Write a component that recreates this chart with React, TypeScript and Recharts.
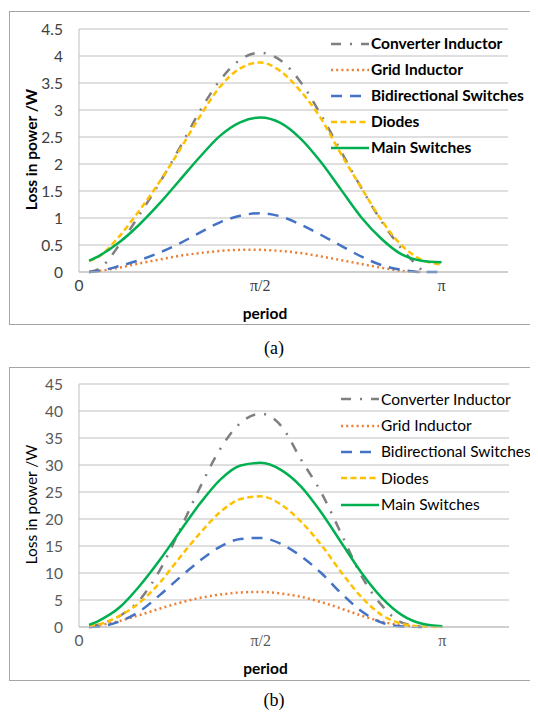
import { LineChart, Line, XAxis, YAxis, CartesianGrid, Legend } from "recharts";

// angle along the half period, in degrees (0 .. π)
const angle = [5, 10, 20, 30, 40, 50, 60, 70, 80, 90, 100, 110, 120, 130, 140, 150, 160, 170, 180];

// (a)
const converterA = [0.0, 0.06, 0.5, 1.06, 1.65, 2.3, 2.98, 3.55, 3.93, 4.06, 3.92, 3.52, 2.92, 2.24, 1.57, 0.95, 0.44, 0.04, null];
const gridA = [0.0, 0.02, 0.08, 0.16, 0.23, 0.3, 0.35, 0.39, 0.41, 0.41, 0.39, 0.35, 0.29, 0.22, 0.15, 0.08, 0.02, 0.0, null];
const bidirA = [0.0, 0.02, 0.11, 0.22, 0.36, 0.53, 0.73, 0.92, 1.04, 1.09, 1.03, 0.88, 0.69, 0.49, 0.29, 0.13, 0.04, 0.0, 0.0];
const diodesA = [0.2, 0.29, 0.66, 1.14, 1.67, 2.26, 2.88, 3.43, 3.77, 3.88, 3.72, 3.35, 2.85, 2.19, 1.57, 0.97, 0.5, 0.23, 0.14];
const mainA = [0.21, 0.3, 0.55, 0.88, 1.27, 1.7, 2.13, 2.52, 2.77, 2.86, 2.76, 2.47, 2.04, 1.53, 1.02, 0.62, 0.33, 0.21, 0.18];

// (b)
const converterB = [0.0, 0.5, 2.0, 5.0, 10.5, 18.0, 25.9, 33.0, 37.8, 39.5, 37.3, 31.0, 24.9, 17.2, 9.4, 4.0, 0.8, 0.1, null];
const gridB = [0.0, 0.3, 1.1, 2.2, 3.4, 4.5, 5.4, 6.0, 6.4, 6.5, 6.2, 5.6, 4.6, 3.4, 2.1, 1.0, 0.3, 0.0, null];
const bidirB = [0.0, 0.1, 1.0, 2.9, 5.9, 9.2, 12.3, 14.9, 16.3, 16.5, 15.4, 13.1, 10.0, 6.2, 2.9, 0.8, 0.1, 0.0, null];
const diodesB = [0.2, 0.5, 2.05, 4.5, 8.2, 12.9, 17.4, 21.3, 23.7, 24.2, 22.7, 19.5, 15.2, 10.1, 5.5, 2.2, 0.6, 0.1, 0.0];
const mainB = [0.4, 1.2, 3.6, 7.6, 12.4, 17.7, 22.9, 27.3, 29.9, 30.4, 29.1, 26.0, 21.2, 15.6, 10.0, 5.4, 2.2, 0.6, 0.15];

const seriesNames = ["Converter Inductor", "Grid Inductor", "Bidirectional Switches", "Diodes", "Main Switches"];
const seriesKeys = ["conv", "grid", "bidir", "diode", "main"];

const yTicksA = [0, 0.5, 1, 1.5, 2, 2.5, 3, 3.5, 4, 4.5];
const yTicksB = [0, 5, 10, 15, 20, 25, 30, 35, 40, 45];
const xTicks = [0, 90, 180];
const xLabels = ["0", "π/2", "π"];

const FONT = "Lato, 'Liberation Sans', sans-serif";
const SERIF = "'Liberation Serif', 'DejaVu Serif', serif";
const FS = 15.5;

const lineStyle: Record<string, { color: string; dash?: string }> = {
  conv: { color: "#7f7f7f", dash: "10 9 2 9" },
  grid: { color: "#ed7d31", dash: "2 3.2" },
  bidir: { color: "#4472c4", dash: "11 8" },
  diode: { color: "#ffc000", dash: "6 3.5" },
  main: { color: "#00b050" },
};

function buildRows(values: (number | null)[][]) {
  return angle.map((a, i) => {
    const row: Record<string, number | null> = { angle: a };
    seriesKeys.forEach((k, s) => {
      row[k] = values[s][i];
    });
    return row;
  });
}

function YTitle({ viewBox, bold }: any) {
  const x = viewBox.x + 21;
  const y = viewBox.y + viewBox.height / 2 - 1;
  return (
    <text
      x={x}
      y={y}
      dy="0.36em"
      transform={`rotate(-90, ${x}, ${y})`}
      textAnchor="middle"
      fontFamily={FONT}
      fontSize={FS}
      fontWeight={bold ? 700 : 400}
      fill="#000"
    >
      Loss in power /W
    </text>
  );
}

function XTitle({ viewBox }: any) {
  return (
    <text
      x={viewBox.x + viewBox.width / 2 - 28.5}
      y={viewBox.y + 41.5}
      dy="0.36em"
      textAnchor="middle"
      fontFamily={FONT}
      fontSize={FS}
      fontWeight={700}
      fill="#000"
    >
      period
    </text>
  );
}

function XTick({ x, y, payload, fill }: any) {
  const label = xLabels[xTicks.indexOf(payload.value)];
  const isPi = label.includes("π");
  return (
    <text
      x={x}
      y={y}
      dy="0.71em"
      textAnchor="middle"
      fill={fill}
      fontFamily={isPi ? SERIF : FONT}
      fontSize={isPi ? 16 : FS}
    >
      {label}
    </text>
  );
}

function LegendBox({ payload, bold, rowHeight }: any) {
  const items = [...(payload || [])].sort(
    (a: any, b: any) => seriesKeys.indexOf(a.dataKey) - seriesKeys.indexOf(b.dataKey)
  );
  return (
    <div style={{ fontFamily: FONT, fontSize: FS, fontWeight: bold ? 700 : 400, color: "#000" }}>
      {items.map((p: any) => {
        const st = lineStyle[p.dataKey];
        return (
          <div key={p.dataKey} style={{ display: "flex", alignItems: "center", height: rowHeight, whiteSpace: "nowrap" }}>
            <svg width={38} height={6} style={{ display: "block" }}>
              <line x1={0} y1={3} x2={38} y2={3} stroke={st.color} strokeWidth={2.5} strokeDasharray={st.dash} />
            </svg>
            <span style={{ marginLeft: 2, lineHeight: 1 }}>{p.value}</span>
          </div>
        );
      })}
    </div>
  );
}

interface PanelProps {
  top: number;
  values: (number | null)[][];
  yTicks: number[];
  bold: boolean;
  tickColor: string;
  marginTop: number;
  marginRight: number;
  xAxisHeight: number;
  legendLeft: number;
  legendTop: number;
  rowHeight: number;
}

function Panel(props: PanelProps) {
  const data = buildRows(props.values);
  const yMax = props.yTicks[props.yTicks.length - 1];
  return (
    <div
      style={{
        position: "absolute",
        left: 1,
        top: props.top,
        width: 560,
        height: 314,
        border: "1px solid #a6a6a6",
        boxSizing: "border-box",
        background: "#fff",
      }}
    >
      <LineChart
        width={528}
        height={312}
        data={data}
        margin={{ top: props.marginTop, right: props.marginRight, bottom: 0, left: 0 }}
      >
        <CartesianGrid vertical={false} stroke="#bfbfbf" strokeWidth={1} />
        <XAxis
          dataKey="angle"
          type="number"
          domain={[0, 213]}
          ticks={xTicks}
          interval={0}
          height={props.xAxisHeight}
          axisLine={{ stroke: "#bfbfbf" }}
          tickLine={false}
          tick={(t: any) => <XTick {...t} fill={props.tickColor} />}
          label={<XTitle />}
        />
        <YAxis
          type="number"
          domain={[0, yMax]}
          ticks={props.yTicks}
          interval={0}
          width={69}
          axisLine={{ stroke: "#bfbfbf" }}
          tickLine={false}
          tickMargin={10}
          tick={{ fill: props.tickColor, fontSize: FS, fontFamily: FONT }}
          label={<YTitle bold={props.bold} />}
        />
        <Legend
          layout="vertical"
          align="center"
          verticalAlign="middle"
          width={210}
          wrapperStyle={{ left: props.legendLeft, top: props.legendTop }}
          content={(lp: any) => <LegendBox {...lp} bold={props.bold} rowHeight={props.rowHeight} />}
        />
        {seriesKeys.map((k, i) => (
          <Line
            key={k}
            type="monotone"
            dataKey={k}
            name={seriesNames[i]}
            stroke={lineStyle[k].color}
            strokeWidth={2.5}
            strokeDasharray={lineStyle[k].dash}
            dot={false}
            activeDot={false}
            isAnimationActive={false}
          />
        ))}
      </LineChart>
    </div>
  );
}

function Caption({ top, text }: { top: number; text: string }) {
  return (
    <div
      style={{
        position: "absolute",
        left: 0,
        top,
        width: 532,
        textAlign: "center",
        fontFamily: SERIF,
        fontSize: 18,
        lineHeight: "20px",
        color: "#000",
      }}
    >
      {text}
    </div>
  );
}

export default function App() {
  return (
    <div style={{ position: "relative", width: 530, height: 706, overflow: "hidden" }}>
      <Panel
        top={3}
        values={[converterA, gridA, bidirA, diodesA, mainA]}
        yTicks={yTicksA}
        bold={true}
        tickColor="#404040"
        marginTop={17}
        marginRight={30}
        xAxisHeight={52}
        legendLeft={321}
        legendTop={18.6}
        rowHeight={26.1}
      />
      <Caption top={330} text="(a)" />
      <Panel
        top={359}
        values={[converterB, gridB, bidirB, diodesB, mainB]}
        yTicks={yTicksB}
        bold={false}
        tickColor="#595959"
        marginTop={16}
        marginRight={29}
        xAxisHeight={53}
        legendLeft={331}
        legendTop={18.2}
        rowHeight={26.35}
      />
      <Caption top={682} text="(b)" />
    </div>
  );
}
